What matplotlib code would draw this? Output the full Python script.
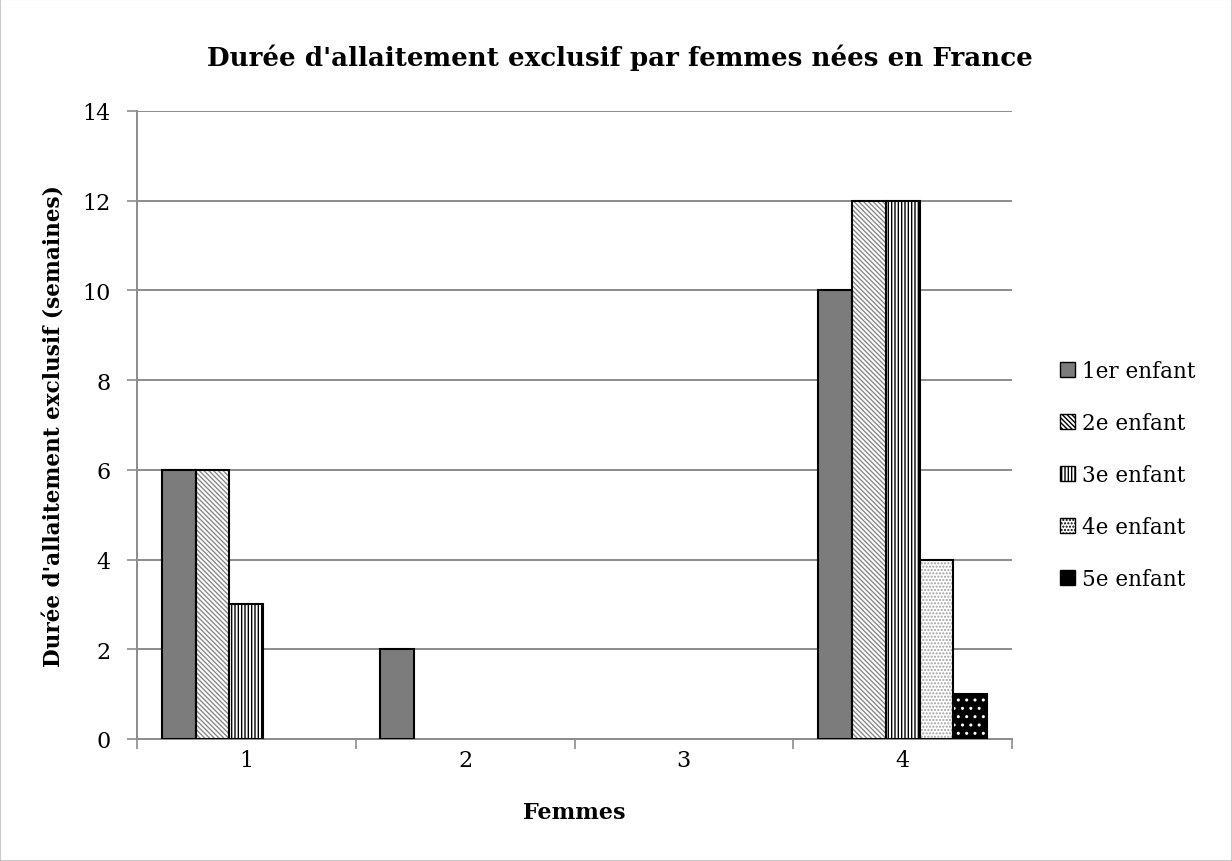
import matplotlib
matplotlib.use("Agg")
import matplotlib.pyplot as plt
import numpy as np
from matplotlib.patches import Rectangle

plt.rcParams['font.family'] = ['DejaVu Serif']

categories = ['1', '2', '3', '4']
series_names = ['1er enfant', '2e enfant', '3e enfant', '4e enfant', '5e enfant']
enfant1 = [6, 2, 0, 10]
enfant2 = [6, 0, 0, 12]
enfant3 = [3, 0, 0, 12]
enfant4 = [0, 0, 0, 4]
enfant5 = [0, 0, 0, 1]
series = [enfant1, enfant2, enfant3, enfant4, enfant5]
yticks = [0, 2, 4, 6, 8, 10, 12, 14]

styles = [
    dict(face='#7c7c7c', hatch='', hc='#7c7c7c'),
    dict(face='white', hatch='\\\\\\\\\\\\\\', hc='#8a8a8a'),
    dict(face='white', hatch='|||||', hc='black'),
    dict(face='white', hatch='.....', hc='#a0a0a0'),
    dict(face='black', hatch='..', hc='white'),
]

fig = plt.figure(figsize=(12.32, 8.62), dpi=100)
fig.patches.append(Rectangle((0, 0), 1, 1, transform=fig.transFigure, fill=False,
                             edgecolor='#c8c8c8', linewidth=1.5))
ax = fig.add_axes([137/1232, 1-740/862, (1012-137)/1232, (740-112)/862])

x = np.arange(len(categories))
w = 0.155
plt.rcParams['hatch.linewidth'] = 1.0
for i, (vals, st) in enumerate(zip(series, styles)):
    pos = x + (i - 2) * w
    lw = [1.5 if v > 0 else 0 for v in vals]
    ax.bar(pos, vals, w, color=st['face'], hatch=st['hatch'], edgecolor=st['hc'],
           linewidth=0, zorder=3)
    ax.bar(pos, vals, w, fill=False, edgecolor='black', linewidth=lw, zorder=4)

ax.set_xlim(-0.5, 3.5)
ax.set_ylim(0, 14)
ax.set_yticks(yticks)
ax.set_yticklabels([str(t) for t in yticks], fontsize=16)
ax.yaxis.grid(True, color='#8c8c8c', linewidth=1.4, zorder=0)
ax.set_axisbelow(True)

ax.set_xticks(x)
ax.set_xticklabels(categories, fontsize=16)
ax.tick_params(axis='x', which='major', length=0, pad=7)
ax.set_xticks(np.arange(-0.5, 4.0, 1.0), minor=True)
ax.tick_params(axis='x', which='minor', length=7, width=1.2, color='#8c8c8c', direction='out')
ax.tick_params(axis='y', length=7, width=1.2, color='#8c8c8c', direction='out', pad=12)

for s in ['top', 'right']:
    ax.spines[s].set_visible(False)
ax.spines['left'].set_color('#8c8c8c')
ax.spines['bottom'].set_color('#8c8c8c')
ax.spines['left'].set_linewidth(1.4)
ax.spines['bottom'].set_linewidth(1.4)

ax.set_xlabel('Femmes', fontsize=16, fontweight='bold', labelpad=22)
ax.set_ylabel("Durée d'allaitement exclusif (semaines)", fontsize=15.6, fontweight='bold', labelpad=12)
fig.text(0.503, 1-58/862, "Durée d'allaitement exclusif par femmes nées en France",
         fontsize=18.8, fontweight='bold', ha='center', va='center')

legend_handles = []
for st in styles:
    legend_handles.append(Rectangle((0, 0), 1, 1, facecolor=st['face'], hatch=st['hatch'],
                                    edgecolor='black', linewidth=1.0))
leg = fig.legend(legend_handles, series_names, loc='center left',
                 bbox_to_anchor=(1060/1232, 1-476/862), frameon=False, fontsize=15.5,
                 handlelength=0.7, handleheight=0.7, handletextpad=0.3, labelspacing=1.4,
                 borderpad=0, borderaxespad=0)

fig.savefig('out.png', dpi=100)
